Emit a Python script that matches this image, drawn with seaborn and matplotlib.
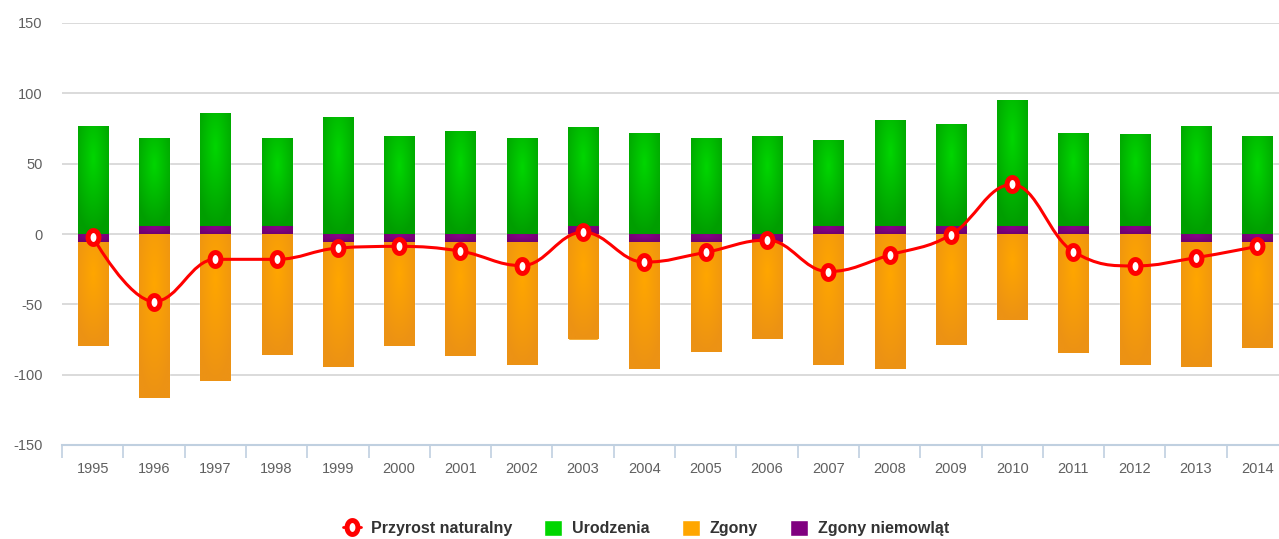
import matplotlib
matplotlib.use("Agg")
import matplotlib.pyplot as plt
from matplotlib.path import Path
from matplotlib.patches import PathPatch, Patch
from matplotlib.lines import Line2D
from matplotlib.colors import to_rgb
import seaborn as sns
import numpy as np
import pandas as pd

# dane
lata = [str(r) for r in range(1995, 2015)]
urodzenia = [77, 62, 80, 62, 83, 69.5, 73, 68, 70, 72, 68, 69.5, 61, 75, 72, 89.5, 66, 65, 77, 69.5]
zgony = [-73.5, -116.5, -104.5, -85.7, -88.5, -73.5, -81, -87, -75, -89.7,
         -77.6, -68.5, -93.4, -95.7, -78.6, -61, -84.5, -93.4, -88.5, -74.7]
zgony_niemowlat = [-6, 6, 6, 6, -6, -6, -6, -6, 6, -6, -6, -6, 6, 6, 6, 6, 6, 6, -6, -6]
przyrost = [-2, -48, -18, -18, -10, -8.8, -12.2, -22.5, 1.3, -20, -13, -4.3, -26.7, -15,
            -0.6, 35.2, -12.6, -22.7, -16.8, -8.8]

sns.set_style("white")
plt.rcParams['font.family'] = ['Liberation Sans', 'DejaVu Sans']
plt.rcParams['axes.unicode_minus'] = False

fig = plt.figure(figsize=(12.79, 5.39), dpi=100)
ax = fig.add_axes([62 / 1279, 94 / 539, 1226 / 1279, 422 / 539])

df = pd.DataFrame({"rok": lata, "urodzenia": urodzenia, "zgony": zgony,
                   "niem": zgony_niemowlat, "przyrost": przyrost})
df["dol_zielony"] = df["niem"].clip(lower=0)
df["dol_pomar"] = df["niem"].clip(upper=0)

green, orange, purple = "#00B800", "#F39C0C", "#800080"
# kolory gradientu (srodek, brzeg)
grad = {green: ("#00D600", "#009E00"), orange: ("#FFA600", "#EC9214"), purple: ("#8A008A", "#700070")}
bw = 0.49
for col, bot, c in [("niem", None, purple), ("urodzenia", "dol_zielony", green), ("zgony", "dol_pomar", orange)]:
    kw = {} if bot is None else {"bottom": df[bot].values}
    n_before = len(ax.patches)
    sns.barplot(data=df, x="rok", y=col, color=c, width=bw, ax=ax, edgecolor="white",
                linewidth=1, saturation=1, zorder=2, **kw)
    # radialny gradient na kazdym slupku
    c0 = np.array(to_rgb(grad[c][0]))
    c1 = np.array(to_rgb(grad[c][1]))
    for p in ax.patches[n_before:]:
        x0, y0 = p.get_x(), p.get_y()
        w, h = p.get_width(), p.get_height()
        ylo, yhi = min(y0, y0 + h), max(y0, y0 + h)
        u = np.linspace(0, 1, 40)[None, :]
        v = np.linspace(0, 1, 120)[:, None]
        d = np.clip(np.sqrt((u - 0.5) ** 2 + (v - 0.3) ** 2) / 0.7, 0, 1)
        img = c0[None, None, :] * (1 - d[..., None]) + c1[None, None, :] * d[..., None]
        im = ax.imshow(img, extent=(x0, x0 + w, ylo, yhi), origin="upper", aspect="auto",
                       zorder=2.1, interpolation="bilinear")
        im.set_clip_path(p)

# linia spline jak w Highcharts
xs = np.arange(len(przyrost), dtype=float)
ys = np.array(przyrost, dtype=float)
sm = 1.5
den = sm + 1
lc = [[x, y] for x, y in zip(xs, ys)]
rc = [[x, y] for x, y in zip(xs, ys)]
for i in range(1, len(xs) - 1):
    px, py = xs[i], ys[i]
    lx, ly = xs[i - 1], ys[i - 1]
    nx, ny = xs[i + 1], ys[i + 1]
    lcx = (sm * px + lx) / den
    lcy = (sm * py + ly) / den
    rcx = (sm * px + nx) / den
    rcy = (sm * py + ny) / den
    corr = ((rcy - lcy) * (rcx - px)) / (rcx - lcx) + py - rcy
    lcy += corr
    rcy += corr
    if lcy > ly and lcy > py:
        lcy = max(ly, py); rcy = 2 * py - lcy
    elif lcy < ly and lcy < py:
        lcy = min(ly, py); rcy = 2 * py - lcy
    if rcy > ny and rcy > py:
        rcy = max(ny, py); lcy = 2 * py - rcy
    elif rcy < ny and rcy < py:
        rcy = min(ny, py); lcy = 2 * py - rcy
    lc[i] = [lcx, lcy]
    rc[i] = [rcx, rcy]
verts = [[xs[0], ys[0]]]
codes = [Path.MOVETO]
for i in range(1, len(xs)):
    verts += [rc[i - 1], lc[i], [xs[i], ys[i]]]
    codes += [Path.CURVE4] * 3
ax.add_patch(PathPatch(Path(verts, codes), facecolor="none", edgecolor="#FF0000", lw=2.2, zorder=4))

t = np.linspace(0, 2 * np.pi, 60)
elipsa = Path(np.column_stack([0.78 * np.cos(t), np.sin(t)]), closed=True)
ax.plot(xs, ys, linestyle="none", marker=elipsa, markersize=10, markerfacecolor="white",
        markeredgecolor="#FF0000", markeredgewidth=3.6, zorder=5)

ax.set_xlim(-0.5, 19.5)
ax.set_ylim(-150, 150)
ax.set_yticks([-150, -100, -50, 0, 50, 100, 150])
ax.grid(axis="y", color="#D8D8D8", lw=1.3, zorder=0)
ax.set_axisbelow(True)
for s in ["left", "right", "top"]:
    ax.spines[s].set_visible(False)
ax.spines["bottom"].set_color("#C0D0E0")
ax.spines["bottom"].set_linewidth(1.5)
ax.spines["bottom"].set_zorder(3)
ax.set_xlabel("")
ax.set_ylabel("")
ax.set_xticks(np.arange(-0.5, 20, 1), minor=True)
ax.tick_params(axis="x", which="major", bottom=True, length=0, pad=12, labelsize=10.5, labelcolor="#606060")
ax.tick_params(axis="x", which="minor", bottom=True, length=9, width=1.2, color="#C0D0E0", direction="out")
ax.tick_params(axis="y", length=0, pad=14, labelsize=10.5, labelcolor="#606060")

handles = [
    Line2D([0], [0], color="#FF0000", lw=2, marker=elipsa, markersize=10, markerfacecolor="white",
           markeredgecolor="#FF0000", markeredgewidth=3.6),
    Patch(facecolor=grad[green][0]), Patch(facecolor=grad[orange][0]), Patch(facecolor=purple),
]
labels = ["Przyrost naturalny", "Urodzenia", "Zgony", "Zgony niemowląt"]
fig.legend(handles, labels, loc="center", bbox_to_anchor=(0.505, 11 / 539), ncol=4, frameon=False,
           prop={"size": 11.5, "weight": "bold"}, labelcolor="#333333", handlelength=1.15,
           handleheight=1.15, handletextpad=0.6, columnspacing=2.0)

plt.savefig("out.png", dpi=100)
